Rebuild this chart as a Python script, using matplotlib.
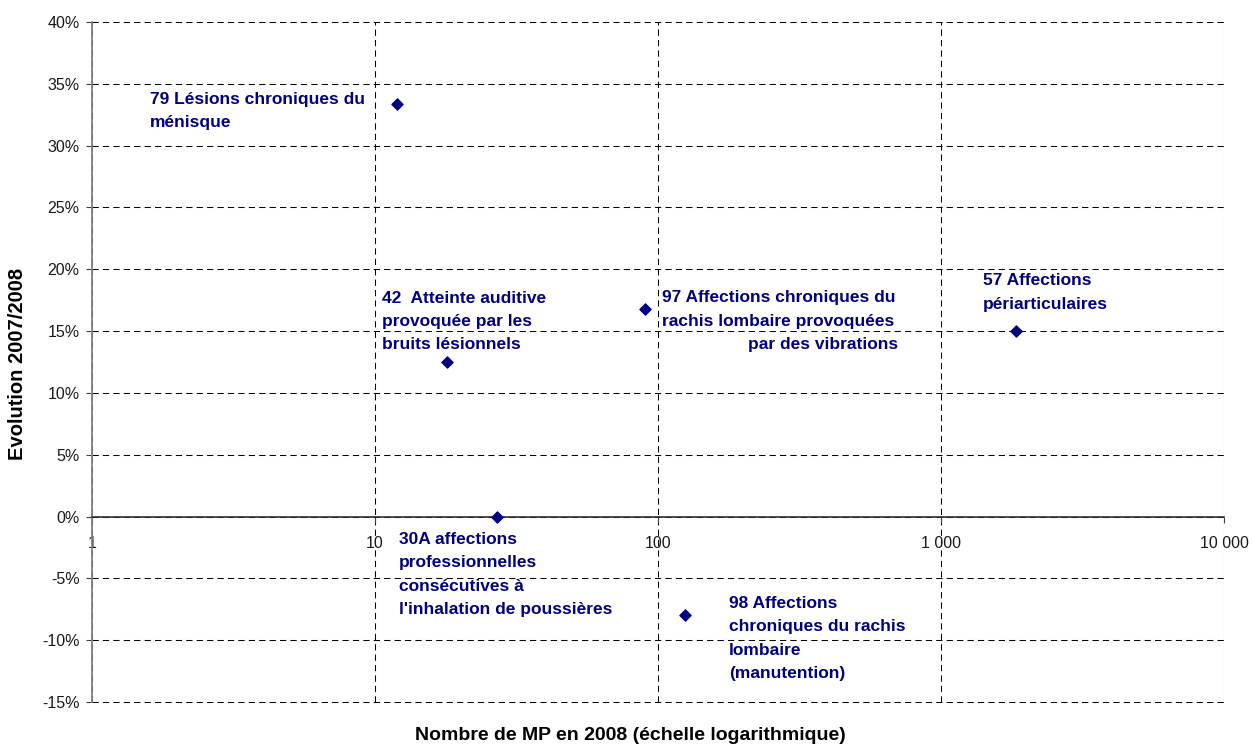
import numpy as np
import matplotlib
matplotlib.use("Agg")
import matplotlib.pyplot as plt
from matplotlib.ticker import FixedLocator, NullLocator, FuncFormatter

plt.rcParams['font.family'] = ['Liberation Sans', 'DejaVu Sans']
plt.rcParams['lines.scale_dashes'] = False

# ---- data ----
codes = ["79", "42", "97", "57", "30A", "98"]
counts = [12, 18, 90, 1840, 27, 125]            # Nombre de MP en 2008
evolution = [33.4, 12.5, 16.8, 15.0, 0.0, -8.0]  # Evolution 2007/2008 (%)
labels = [
    "79 Lésions chroniques du\nménisque",
    "42  Atteinte auditive\nprovoquée par les\nbruits lésionnels",
    "97 Affections chroniques du\nrachis lombaire provoquées",
    "57 Affections\npériarticulaires",
    "30A affections\nprofessionnelles\nconsécutives à\nl'inhalation de poussières",
    "98 Affections\nchroniques du rachis\nlombaire\n(manutention)",
]
extra_label = "par des vibrations"
xticks = [1, 10, 100, 1000, 10000]
xticklabels = ["1", "10", "100", "1 000", "10 000"]
yticks = list(range(-15, 45, 5))

# ---- layout (label anchor positions, data coords) ----
label_pos = [(1.60, 32.77), (10.6, 15.78), (103.3, 16.75),
             (1407, 18.12), (12.15, -4.69), (178, -9.87)]
extra_pos = (704.7, 13.92)

navy = '#000080'
fig = plt.figure(figsize=(12.54, 7.44), dpi=100)
ax = fig.add_axes([92/1254, 1-702/744, (1224-92)/1254, (702-22)/744])
ax.set_xscale('log')
ax.set_xlim(1, 10000)
ax.set_ylim(-15, 40)

ax.xaxis.set_major_locator(FixedLocator(xticks))
ax.xaxis.set_minor_locator(NullLocator())
ax.set_xticks(xticks)
ax.set_xticklabels(xticklabels)
ax.set_yticks(yticks)
ax.yaxis.set_major_formatter(FuncFormatter(lambda v, p: f"{int(round(v))}%"))

ax.grid(True, which='major', color='black', linewidth=0.75, linestyle=(0, (4.5, 3.0)))
xgl = ax.get_xgridlines()
for gl in xgl + ax.get_ygridlines():
    gl.set_clip_on(False)
xgl[0].set_visible(False)
ax.set_axisbelow(True)

for s in ['top', 'right']:
    ax.spines[s].set_visible(False)
ax.spines['left'].set_color('#808080')
ax.spines['left'].set_linewidth(1.3)
ax.spines['bottom'].set_position(('data', 0))
ax.spines['bottom'].set_color('#303030')
ax.spines['bottom'].set_linewidth(1.2)

ax.tick_params(axis='y', direction='out', length=4, width=0.8, color='#404040',
               labelsize=11.5, pad=5, labelcolor='#1a1a1a')
ax.tick_params(axis='x', direction='out', length=4, width=0.8, color='#404040',
               labelsize=11.5, pad=10, labelcolor='#1a1a1a')
for lbl in ax.get_xticklabels():
    lbl.set_x(lbl.get_position()[0])

ax.scatter(counts, evolution, marker='D', s=32, color=navy, zorder=5, clip_on=False)

for (lx, ly), txt in zip(label_pos, labels):
    ax.text(lx, ly, txt, color=navy, fontsize=12.5, fontweight='bold',
            ha='left', va='center', linespacing=1.68)
ax.text(extra_pos[0], extra_pos[1], extra_label, color=navy, fontsize=12.5,
        fontweight='bold', ha='right', va='center')

fig.text(18/1254, 1-364/744, "Evolution 2007/2008", rotation=90, ha='center', va='center',
         fontsize=14.5, fontweight='bold')
fig.text(630/1254, 1-735/744, "Nombre de MP en 2008 (échelle logarithmique)", ha='center',
         va='center', fontsize=14, fontweight='bold')

fig.savefig('out.png', dpi=100)
